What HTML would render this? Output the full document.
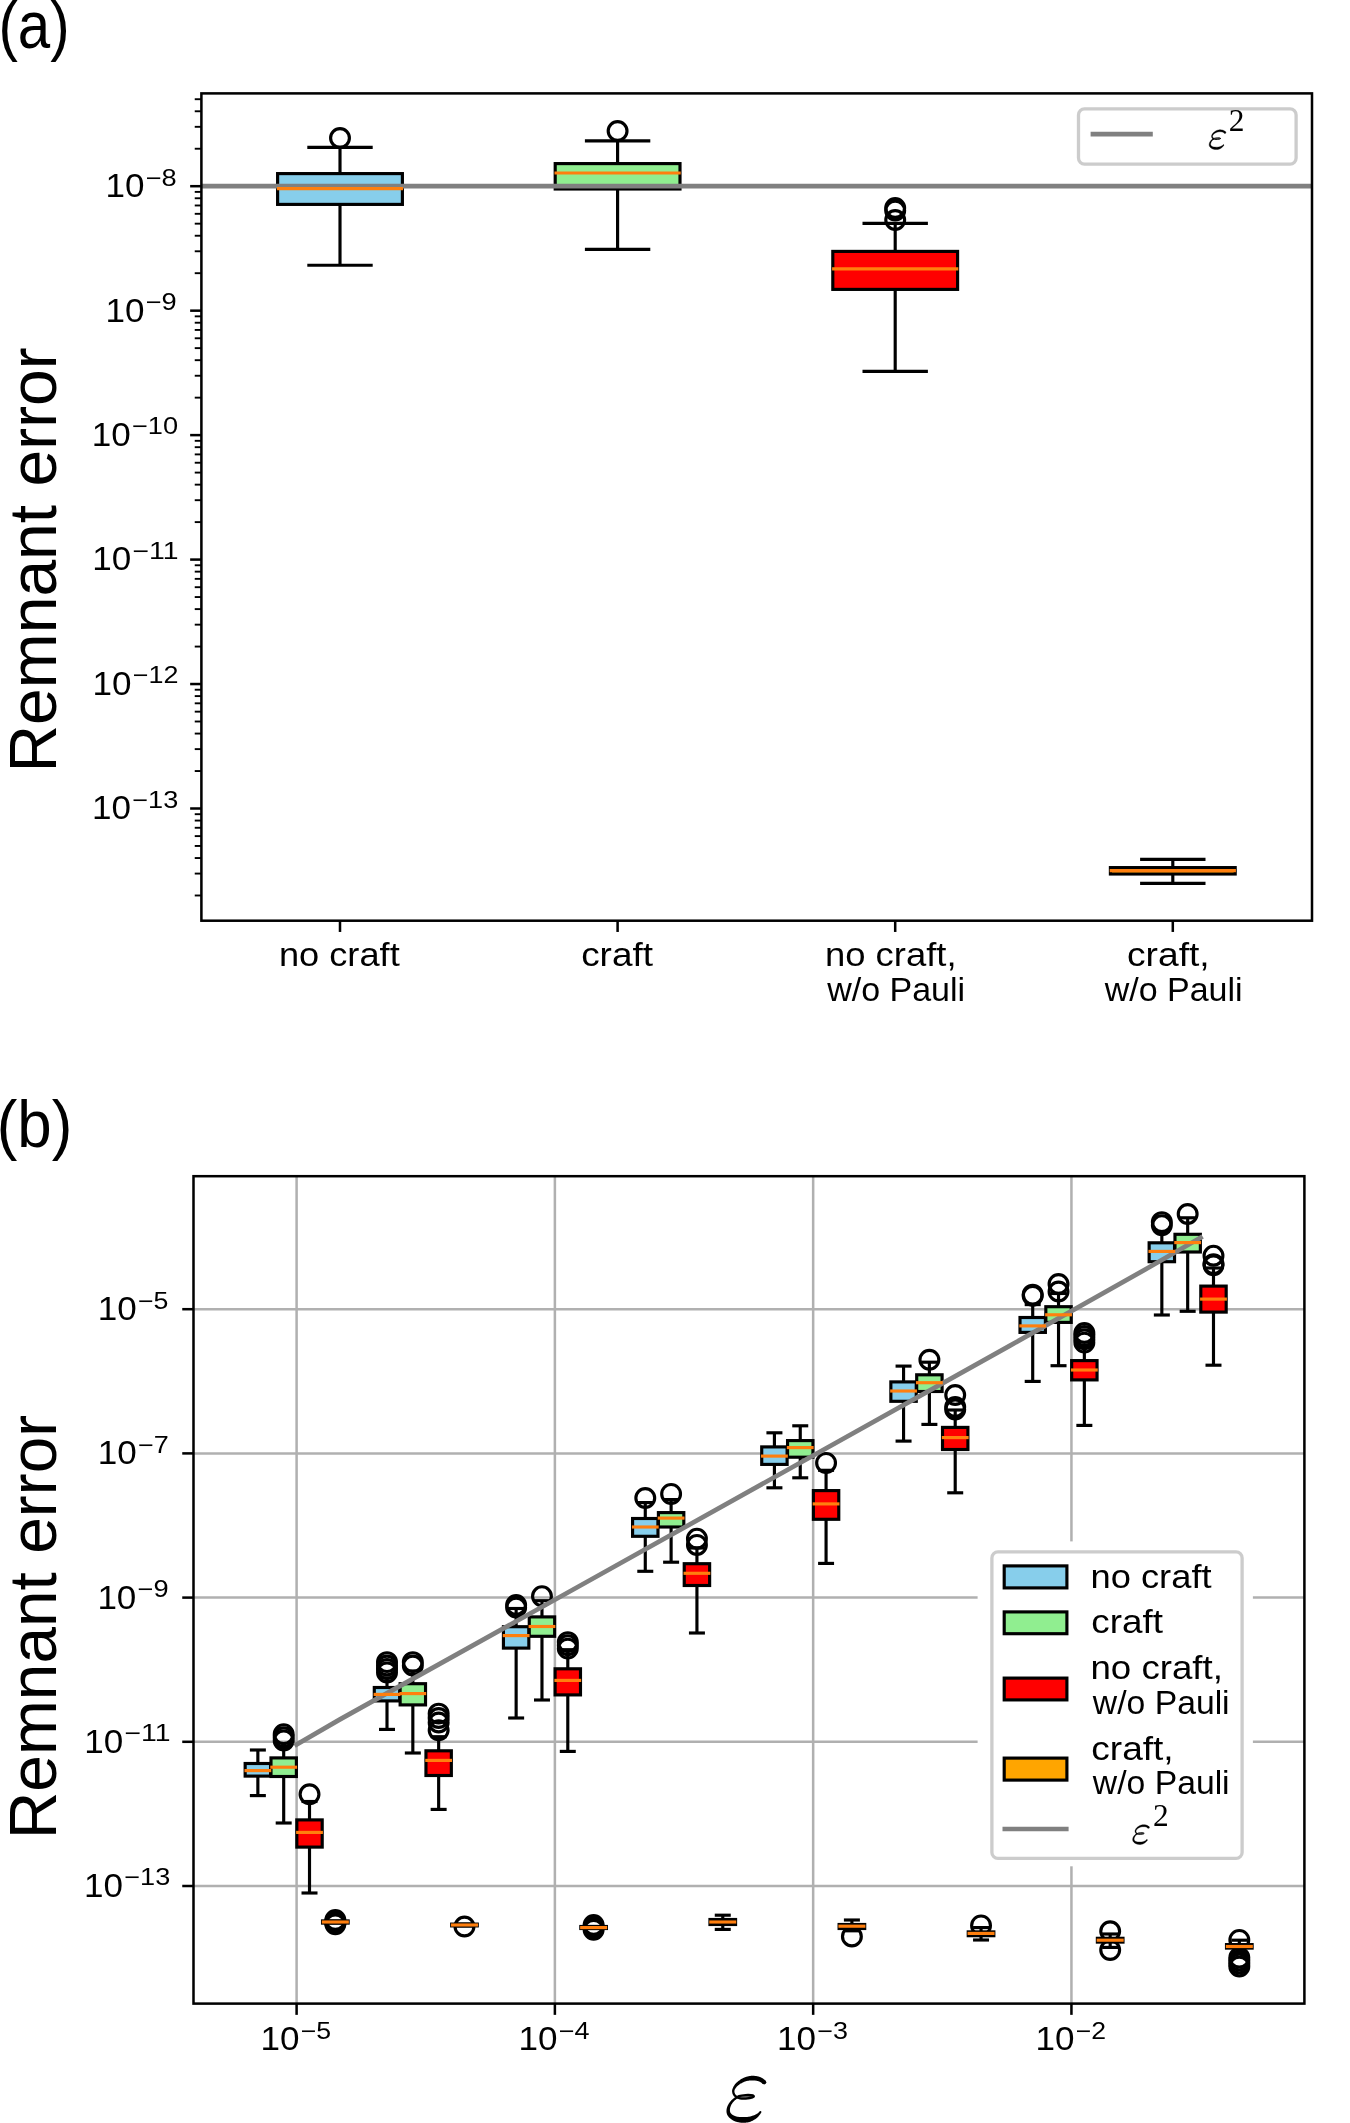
<!DOCTYPE html>
<html><head><meta charset="utf-8"><title>Remnant error box plots</title>
<style>
html,body{margin:0;padding:0;background:#fff;}
body{width:1350px;height:2123px;overflow:hidden;}
svg{display:block;will-change:transform;}
text{font-family:"Liberation Sans",sans-serif;fill:#000;}
text.m{font-family:"Liberation Serif",serif;}
</style></head><body>
<svg width="1350" height="2123" viewBox="0 0 1350 2123">
<rect x="0" y="0" width="1350" height="2123" fill="#ffffff"/>
<defs><g id="eps" fill="#000"><path d="M38.48 4.63 L38.27 4.47 L38.08 4.31 L37.89 4.14 L37.69 3.96 L37.48 3.77 L37.26 3.58 L37.03 3.37 L36.78 3.17 L36.53 2.96 L36.26 2.75 L35.97 2.54 L35.67 2.34 L35.34 2.14 L35.02 1.95 L34.70 1.78 L34.39 1.63 L34.07 1.48 L33.74 1.33 L33.42 1.20 L33.08 1.07 L32.74 0.94 L32.40 0.82 L32.05 0.71 L31.70 0.60 L31.34 0.50 L30.97 0.41 L30.60 0.32 L30.23 0.24 L29.84 0.17 L29.44 0.11 L29.04 0.05 L28.63 -0.01 L28.21 -0.05 L27.79 -0.09 L27.36 -0.13 L26.94 -0.16 L26.51 -0.18 L26.08 -0.20 L25.66 -0.21 L25.24 -0.21 L24.82 -0.21 L24.41 -0.20 L24.00 -0.16 L23.59 -0.12 L23.19 -0.07 L22.80 -0.01 L22.41 0.06 L22.02 0.13 L21.64 0.21 L21.27 0.29 L20.90 0.38 L20.54 0.47 L20.18 0.57 L19.83 0.67 L19.49 0.77 L19.16 0.87 L18.84 0.97 L18.53 1.07 L18.22 1.18 L17.92 1.28 L17.61 1.39 L17.31 1.51 L17.00 1.64 L16.69 1.77 L16.37 1.92 L16.05 2.08 L15.72 2.25 L15.38 2.43 L15.04 2.63 L14.68 2.84 L14.32 3.07 L13.94 3.32 L13.54 3.58 L13.13 3.86 L12.70 4.16 L12.26 4.46 L11.82 4.78 L11.38 5.10 L10.95 5.43 L10.52 5.78 L10.10 6.13 L9.70 6.48 L9.32 6.85 L8.96 7.22 L8.62 7.59 L8.30 7.97 L7.99 8.36 L7.69 8.76 L7.41 9.16 L7.15 9.57 L6.90 9.97 L6.66 10.37 L6.44 10.77 L6.24 11.16 L6.05 11.54 L5.88 11.92 L5.73 12.28 L5.60 12.63 L5.46 12.97 L5.35 13.31 L5.25 13.64 L5.18 13.97 L5.13 14.29 L5.09 14.60 L5.08 14.91 L5.07 15.21 L5.08 15.49 L5.11 15.77 L5.14 16.04 L5.18 16.31 L5.22 16.56 L5.27 16.82 L5.33 17.10 L5.41 17.39 L5.50 17.67 L5.60 17.95 L5.71 18.22 L5.83 18.49 L5.96 18.75 L6.10 19.00 L6.24 19.25 L6.39 19.48 L6.54 19.71 L6.70 19.93 L6.86 20.14 L7.03 20.35 L7.22 20.56 L7.43 20.76 L7.64 20.94 L7.85 21.10 L8.06 21.24 L8.27 21.37 L8.47 21.49 L8.67 21.60 L8.86 21.70 L9.04 21.80 L9.21 21.89 L9.37 21.98 L9.52 22.07 L9.68 22.17 L10.92 20.23 L10.73 20.11 L10.53 19.99 L10.33 19.88 L10.13 19.77 L9.95 19.67 L9.78 19.58 L9.61 19.49 L9.46 19.40 L9.32 19.31 L9.19 19.22 L9.07 19.13 L8.96 19.04 L8.87 18.95 L8.77 18.85 L8.66 18.72 L8.55 18.57 L8.43 18.40 L8.32 18.24 L8.21 18.06 L8.10 17.88 L8.00 17.69 L7.91 17.50 L7.82 17.31 L7.74 17.12 L7.67 16.93 L7.62 16.75 L7.57 16.56 L7.53 16.38 L7.50 16.18 L7.47 15.97 L7.44 15.77 L7.43 15.58 L7.42 15.39 L7.42 15.20 L7.42 15.02 L7.44 14.83 L7.47 14.64 L7.50 14.45 L7.56 14.25 L7.62 14.04 L7.70 13.81 L7.80 13.57 L7.94 13.31 L8.10 13.03 L8.28 12.74 L8.48 12.43 L8.68 12.11 L8.91 11.79 L9.14 11.47 L9.39 11.14 L9.65 10.82 L9.91 10.51 L10.19 10.21 L10.47 9.92 L10.75 9.64 L11.04 9.38 L11.35 9.14 L11.68 8.89 L12.05 8.63 L12.43 8.38 L12.84 8.12 L13.25 7.87 L13.68 7.62 L14.11 7.38 L14.53 7.15 L14.96 6.93 L15.37 6.72 L15.78 6.52 L16.16 6.33 L16.52 6.16 L16.84 6.01 L17.13 5.87 L17.41 5.75 L17.67 5.64 L17.92 5.55 L18.16 5.46 L18.40 5.39 L18.64 5.32 L18.88 5.25 L19.12 5.19 L19.38 5.12 L19.65 5.06 L19.94 5.00 L20.24 4.93 L20.55 4.86 L20.86 4.80 L21.16 4.74 L21.47 4.68 L21.78 4.63 L22.09 4.58 L22.41 4.54 L22.72 4.50 L23.03 4.47 L23.35 4.44 L23.66 4.42 L23.97 4.41 L24.28 4.40 L24.59 4.40 L24.91 4.39 L25.24 4.39 L25.59 4.39 L25.94 4.40 L26.29 4.41 L26.65 4.43 L27.01 4.46 L27.37 4.49 L27.72 4.52 L28.07 4.56 L28.42 4.61 L28.75 4.65 L29.07 4.71 L29.37 4.76 L29.67 4.81 L29.96 4.87 L30.24 4.93 L30.52 4.99 L30.79 5.06 L31.06 5.13 L31.32 5.21 L31.57 5.29 L31.82 5.37 L32.07 5.46 L32.30 5.55 L32.54 5.65 L32.77 5.75 L32.98 5.85 L33.17 5.95 L33.35 6.04 L33.53 6.15 L33.72 6.27 L33.91 6.41 L34.10 6.55 L34.30 6.70 L34.51 6.86 L34.72 7.03 L34.94 7.21 L35.18 7.40 L35.42 7.59 L35.67 7.78 L35.92 7.97Z"/><circle cx="37.20" cy="6.30" r="2.10"/><circle cx="10.30" cy="21.20" r="1.15"/><path d="M9.31 20.38 L9.03 20.59 L8.76 20.78 L8.48 20.97 L8.20 21.17 L7.91 21.36 L7.62 21.56 L7.32 21.77 L7.02 21.98 L6.73 22.20 L6.43 22.43 L6.13 22.66 L5.83 22.92 L5.54 23.18 L5.25 23.45 L4.97 23.72 L4.69 24.00 L4.41 24.28 L4.14 24.58 L3.86 24.88 L3.59 25.19 L3.33 25.50 L3.07 25.82 L2.81 26.14 L2.57 26.47 L2.33 26.81 L2.10 27.15 L1.88 27.49 L1.67 27.83 L1.47 28.18 L1.28 28.52 L1.09 28.88 L0.91 29.24 L0.74 29.60 L0.58 29.97 L0.43 30.34 L0.28 30.71 L0.15 31.09 L0.03 31.47 L-0.08 31.85 L-0.18 32.23 L-0.27 32.62 L-0.34 33.00 L-0.40 33.37 L-0.44 33.74 L-0.48 34.12 L-0.51 34.50 L-0.52 34.88 L-0.52 35.27 L-0.51 35.65 L-0.48 36.04 L-0.44 36.44 L-0.38 36.83 L-0.30 37.22 L-0.19 37.62 L-0.07 38.01 L0.07 38.40 L0.24 38.78 L0.43 39.15 L0.63 39.51 L0.85 39.86 L1.08 40.20 L1.33 40.52 L1.59 40.84 L1.85 41.15 L2.13 41.44 L2.42 41.73 L2.71 42.01 L3.01 42.28 L3.32 42.54 L3.63 42.80 L3.95 43.05 L4.29 43.30 L4.64 43.55 L5.00 43.79 L5.36 44.01 L5.74 44.24 L6.12 44.45 L6.52 44.66 L6.92 44.85 L7.33 45.04 L7.74 45.22 L8.16 45.39 L8.59 45.56 L9.02 45.71 L9.48 45.85 L9.94 45.97 L10.40 46.09 L10.87 46.19 L11.34 46.29 L11.81 46.37 L12.29 46.45 L12.76 46.52 L13.23 46.58 L13.70 46.63 L14.16 46.68 L14.62 46.73 L15.08 46.76 L15.53 46.80 L15.97 46.79 L16.42 46.79 L16.88 46.77 L17.34 46.76 L17.80 46.73 L18.27 46.70 L18.74 46.66 L19.21 46.62 L19.69 46.57 L20.16 46.50 L20.64 46.43 L21.11 46.35 L21.59 46.25 L22.06 46.14 L22.53 45.99 L22.99 45.83 L23.44 45.66 L23.89 45.47 L24.32 45.28 L24.75 45.09 L25.17 44.88 L25.58 44.68 L25.98 44.46 L26.38 44.25 L26.76 44.03 L27.13 43.82 L27.49 43.60 L27.84 43.38 L28.18 43.15 L28.53 42.91 L28.86 42.66 L29.19 42.41 L29.50 42.16 L29.81 41.91 L30.11 41.65 L30.39 41.40 L30.67 41.14 L30.94 40.88 L31.19 40.63 L31.44 40.38 L31.67 40.12 L31.90 39.87 L32.14 39.62 L32.36 39.36 L32.57 39.11 L32.75 38.86 L32.93 38.61 L33.09 38.37 L33.24 38.14 L33.38 37.90 L33.52 37.68 L33.65 37.45 L33.78 37.23 L33.91 37.02 L34.04 36.81 L34.18 36.59 L32.82 35.41 L32.61 35.59 L32.41 35.78 L32.21 35.97 L32.02 36.15 L31.83 36.33 L31.64 36.51 L31.46 36.68 L31.28 36.84 L31.09 37.00 L30.91 37.15 L30.72 37.30 L30.52 37.45 L30.32 37.59 L30.10 37.73 L29.85 37.87 L29.58 38.02 L29.31 38.17 L29.03 38.31 L28.75 38.46 L28.45 38.60 L28.16 38.75 L27.85 38.89 L27.55 39.02 L27.24 39.15 L26.92 39.28 L26.61 39.40 L26.29 39.51 L25.96 39.62 L25.63 39.74 L25.28 39.86 L24.92 39.97 L24.56 40.09 L24.19 40.20 L23.82 40.30 L23.45 40.40 L23.08 40.50 L22.71 40.58 L22.35 40.66 L21.99 40.72 L21.63 40.78 L21.28 40.83 L20.94 40.86 L20.60 40.91 L20.26 40.96 L19.90 40.99 L19.54 41.02 L19.17 41.05 L18.80 41.06 L18.42 41.07 L18.04 41.08 L17.65 41.08 L17.26 41.07 L16.87 41.06 L16.47 41.04 L16.07 41.02 L15.67 41.00 L15.27 41.01 L14.87 41.02 L14.47 41.02 L14.07 41.02 L13.67 41.01 L13.27 41.00 L12.88 40.98 L12.49 40.96 L12.11 40.93 L11.74 40.89 L11.38 40.85 L11.03 40.80 L10.70 40.75 L10.38 40.69 L10.05 40.63 L9.72 40.55 L9.40 40.48 L9.07 40.39 L8.75 40.29 L8.44 40.19 L8.13 40.09 L7.82 39.97 L7.52 39.86 L7.24 39.73 L6.95 39.61 L6.68 39.48 L6.42 39.34 L6.17 39.20 L5.92 39.05 L5.68 38.89 L5.44 38.73 L5.21 38.56 L4.99 38.39 L4.78 38.21 L4.58 38.04 L4.39 37.86 L4.21 37.68 L4.05 37.50 L3.89 37.32 L3.76 37.15 L3.63 36.97 L3.53 36.80 L3.43 36.63 L3.34 36.44 L3.26 36.23 L3.19 36.02 L3.13 35.79 L3.07 35.56 L3.02 35.31 L2.98 35.05 L2.96 34.79 L2.94 34.52 L2.92 34.24 L2.92 33.96 L2.93 33.68 L2.94 33.40 L2.96 33.13 L2.99 32.85 L3.03 32.56 L3.09 32.26 L3.15 31.96 L3.23 31.65 L3.31 31.34 L3.40 31.02 L3.51 30.71 L3.62 30.39 L3.74 30.08 L3.86 29.77 L3.99 29.47 L4.13 29.17 L4.28 28.87 L4.44 28.58 L4.61 28.28 L4.79 27.98 L4.98 27.68 L5.18 27.39 L5.39 27.09 L5.60 26.79 L5.82 26.50 L6.04 26.22 L6.27 25.94 L6.50 25.67 L6.72 25.40 L6.95 25.15 L7.18 24.92 L7.41 24.70 L7.65 24.49 L7.90 24.28 L8.16 24.08 L8.42 23.88 L8.69 23.68 L8.97 23.48 L9.25 23.28 L9.53 23.08 L9.82 22.87 L10.11 22.66 L10.41 22.44 L10.69 22.22Z"/><circle cx="10.00" cy="21.30" r="1.15"/><circle cx="33.50" cy="36.00" r="0.90"/><ellipse cx="18.7" cy="20.8" rx="8.2" ry="1.75" fill="#777" stroke="#000" stroke-width="2.3" transform="rotate(-3 18.7 20.8)"/></g></defs>
<g id="panelA">
<line x1="194.74" y1="895.49" x2="201.40" y2="895.49" stroke="#000" stroke-width="1.9" stroke-linecap="butt"/>
<line x1="194.74" y1="873.58" x2="201.40" y2="873.58" stroke="#000" stroke-width="1.9" stroke-linecap="butt"/>
<line x1="194.74" y1="858.03" x2="201.40" y2="858.03" stroke="#000" stroke-width="1.9" stroke-linecap="butt"/>
<line x1="194.74" y1="845.97" x2="201.40" y2="845.97" stroke="#000" stroke-width="1.9" stroke-linecap="butt"/>
<line x1="194.74" y1="836.11" x2="201.40" y2="836.11" stroke="#000" stroke-width="1.9" stroke-linecap="butt"/>
<line x1="194.74" y1="827.78" x2="201.40" y2="827.78" stroke="#000" stroke-width="1.9" stroke-linecap="butt"/>
<line x1="194.74" y1="820.56" x2="201.40" y2="820.56" stroke="#000" stroke-width="1.9" stroke-linecap="butt"/>
<line x1="194.74" y1="814.19" x2="201.40" y2="814.19" stroke="#000" stroke-width="1.9" stroke-linecap="butt"/>
<line x1="194.74" y1="771.03" x2="201.40" y2="771.03" stroke="#000" stroke-width="1.9" stroke-linecap="butt"/>
<line x1="194.74" y1="749.12" x2="201.40" y2="749.12" stroke="#000" stroke-width="1.9" stroke-linecap="butt"/>
<line x1="194.74" y1="733.57" x2="201.40" y2="733.57" stroke="#000" stroke-width="1.9" stroke-linecap="butt"/>
<line x1="194.74" y1="721.51" x2="201.40" y2="721.51" stroke="#000" stroke-width="1.9" stroke-linecap="butt"/>
<line x1="194.74" y1="711.65" x2="201.40" y2="711.65" stroke="#000" stroke-width="1.9" stroke-linecap="butt"/>
<line x1="194.74" y1="703.32" x2="201.40" y2="703.32" stroke="#000" stroke-width="1.9" stroke-linecap="butt"/>
<line x1="194.74" y1="696.10" x2="201.40" y2="696.10" stroke="#000" stroke-width="1.9" stroke-linecap="butt"/>
<line x1="194.74" y1="689.73" x2="201.40" y2="689.73" stroke="#000" stroke-width="1.9" stroke-linecap="butt"/>
<line x1="194.74" y1="646.57" x2="201.40" y2="646.57" stroke="#000" stroke-width="1.9" stroke-linecap="butt"/>
<line x1="194.74" y1="624.66" x2="201.40" y2="624.66" stroke="#000" stroke-width="1.9" stroke-linecap="butt"/>
<line x1="194.74" y1="609.11" x2="201.40" y2="609.11" stroke="#000" stroke-width="1.9" stroke-linecap="butt"/>
<line x1="194.74" y1="597.05" x2="201.40" y2="597.05" stroke="#000" stroke-width="1.9" stroke-linecap="butt"/>
<line x1="194.74" y1="587.19" x2="201.40" y2="587.19" stroke="#000" stroke-width="1.9" stroke-linecap="butt"/>
<line x1="194.74" y1="578.86" x2="201.40" y2="578.86" stroke="#000" stroke-width="1.9" stroke-linecap="butt"/>
<line x1="194.74" y1="571.64" x2="201.40" y2="571.64" stroke="#000" stroke-width="1.9" stroke-linecap="butt"/>
<line x1="194.74" y1="565.27" x2="201.40" y2="565.27" stroke="#000" stroke-width="1.9" stroke-linecap="butt"/>
<line x1="194.74" y1="522.11" x2="201.40" y2="522.11" stroke="#000" stroke-width="1.9" stroke-linecap="butt"/>
<line x1="194.74" y1="500.20" x2="201.40" y2="500.20" stroke="#000" stroke-width="1.9" stroke-linecap="butt"/>
<line x1="194.74" y1="484.65" x2="201.40" y2="484.65" stroke="#000" stroke-width="1.9" stroke-linecap="butt"/>
<line x1="194.74" y1="472.59" x2="201.40" y2="472.59" stroke="#000" stroke-width="1.9" stroke-linecap="butt"/>
<line x1="194.74" y1="462.73" x2="201.40" y2="462.73" stroke="#000" stroke-width="1.9" stroke-linecap="butt"/>
<line x1="194.74" y1="454.40" x2="201.40" y2="454.40" stroke="#000" stroke-width="1.9" stroke-linecap="butt"/>
<line x1="194.74" y1="447.18" x2="201.40" y2="447.18" stroke="#000" stroke-width="1.9" stroke-linecap="butt"/>
<line x1="194.74" y1="440.81" x2="201.40" y2="440.81" stroke="#000" stroke-width="1.9" stroke-linecap="butt"/>
<line x1="194.74" y1="397.65" x2="201.40" y2="397.65" stroke="#000" stroke-width="1.9" stroke-linecap="butt"/>
<line x1="194.74" y1="375.74" x2="201.40" y2="375.74" stroke="#000" stroke-width="1.9" stroke-linecap="butt"/>
<line x1="194.74" y1="360.19" x2="201.40" y2="360.19" stroke="#000" stroke-width="1.9" stroke-linecap="butt"/>
<line x1="194.74" y1="348.13" x2="201.40" y2="348.13" stroke="#000" stroke-width="1.9" stroke-linecap="butt"/>
<line x1="194.74" y1="338.27" x2="201.40" y2="338.27" stroke="#000" stroke-width="1.9" stroke-linecap="butt"/>
<line x1="194.74" y1="329.94" x2="201.40" y2="329.94" stroke="#000" stroke-width="1.9" stroke-linecap="butt"/>
<line x1="194.74" y1="322.72" x2="201.40" y2="322.72" stroke="#000" stroke-width="1.9" stroke-linecap="butt"/>
<line x1="194.74" y1="316.35" x2="201.40" y2="316.35" stroke="#000" stroke-width="1.9" stroke-linecap="butt"/>
<line x1="194.74" y1="273.19" x2="201.40" y2="273.19" stroke="#000" stroke-width="1.9" stroke-linecap="butt"/>
<line x1="194.74" y1="251.28" x2="201.40" y2="251.28" stroke="#000" stroke-width="1.9" stroke-linecap="butt"/>
<line x1="194.74" y1="235.73" x2="201.40" y2="235.73" stroke="#000" stroke-width="1.9" stroke-linecap="butt"/>
<line x1="194.74" y1="223.67" x2="201.40" y2="223.67" stroke="#000" stroke-width="1.9" stroke-linecap="butt"/>
<line x1="194.74" y1="213.81" x2="201.40" y2="213.81" stroke="#000" stroke-width="1.9" stroke-linecap="butt"/>
<line x1="194.74" y1="205.48" x2="201.40" y2="205.48" stroke="#000" stroke-width="1.9" stroke-linecap="butt"/>
<line x1="194.74" y1="198.26" x2="201.40" y2="198.26" stroke="#000" stroke-width="1.9" stroke-linecap="butt"/>
<line x1="194.74" y1="191.89" x2="201.40" y2="191.89" stroke="#000" stroke-width="1.9" stroke-linecap="butt"/>
<line x1="194.74" y1="148.73" x2="201.40" y2="148.73" stroke="#000" stroke-width="1.9" stroke-linecap="butt"/>
<line x1="194.74" y1="126.82" x2="201.40" y2="126.82" stroke="#000" stroke-width="1.9" stroke-linecap="butt"/>
<line x1="194.74" y1="111.27" x2="201.40" y2="111.27" stroke="#000" stroke-width="1.9" stroke-linecap="butt"/>
<line x1="194.74" y1="99.21" x2="201.40" y2="99.21" stroke="#000" stroke-width="1.9" stroke-linecap="butt"/>
<line x1="190.14" y1="808.50" x2="201.40" y2="808.50" stroke="#000" stroke-width="2.52" stroke-linecap="butt"/>
<line x1="190.14" y1="684.04" x2="201.40" y2="684.04" stroke="#000" stroke-width="2.52" stroke-linecap="butt"/>
<line x1="190.14" y1="559.58" x2="201.40" y2="559.58" stroke="#000" stroke-width="2.52" stroke-linecap="butt"/>
<line x1="190.14" y1="435.12" x2="201.40" y2="435.12" stroke="#000" stroke-width="2.52" stroke-linecap="butt"/>
<line x1="190.14" y1="310.66" x2="201.40" y2="310.66" stroke="#000" stroke-width="2.52" stroke-linecap="butt"/>
<line x1="190.14" y1="186.20" x2="201.40" y2="186.20" stroke="#000" stroke-width="2.52" stroke-linecap="butt"/>
<line x1="340.00" y1="920.70" x2="340.00" y2="931.96" stroke="#000" stroke-width="2.52" stroke-linecap="butt"/>
<line x1="617.60" y1="920.70" x2="617.60" y2="931.96" stroke="#000" stroke-width="2.52" stroke-linecap="butt"/>
<line x1="895.20" y1="920.70" x2="895.20" y2="931.96" stroke="#000" stroke-width="2.52" stroke-linecap="butt"/>
<line x1="1172.80" y1="920.70" x2="1172.80" y2="931.96" stroke="#000" stroke-width="2.52" stroke-linecap="butt"/>
<line x1="340.00" y1="173.60" x2="340.00" y2="147.40" stroke="#000" stroke-width="3.15" stroke-linecap="butt"/>
<line x1="340.00" y1="204.40" x2="340.00" y2="265.20" stroke="#000" stroke-width="3.15" stroke-linecap="butt"/>
<line x1="307.30" y1="147.40" x2="372.70" y2="147.40" stroke="#000" stroke-width="3.15" stroke-linecap="butt"/>
<line x1="307.30" y1="265.20" x2="372.70" y2="265.20" stroke="#000" stroke-width="3.15" stroke-linecap="butt"/>
<rect x="277.60" y="173.60" width="124.80" height="30.80" fill="#87ceeb" stroke="#000" stroke-width="3.15" />
<circle cx="340.00" cy="138.00" r="9.4" fill="none" stroke="#000" stroke-width="3.15"/>
<line x1="617.60" y1="163.60" x2="617.60" y2="140.80" stroke="#000" stroke-width="3.15" stroke-linecap="butt"/>
<line x1="617.60" y1="189.00" x2="617.60" y2="249.40" stroke="#000" stroke-width="3.15" stroke-linecap="butt"/>
<line x1="584.90" y1="140.80" x2="650.30" y2="140.80" stroke="#000" stroke-width="3.15" stroke-linecap="butt"/>
<line x1="584.90" y1="249.40" x2="650.30" y2="249.40" stroke="#000" stroke-width="3.15" stroke-linecap="butt"/>
<rect x="555.20" y="163.60" width="124.80" height="25.40" fill="#90ee90" stroke="#000" stroke-width="3.15" />
<circle cx="617.60" cy="131.00" r="9.4" fill="none" stroke="#000" stroke-width="3.15"/>
<line x1="895.20" y1="251.40" x2="895.20" y2="223.40" stroke="#000" stroke-width="3.15" stroke-linecap="butt"/>
<line x1="895.20" y1="289.40" x2="895.20" y2="371.40" stroke="#000" stroke-width="3.15" stroke-linecap="butt"/>
<line x1="862.50" y1="223.40" x2="927.90" y2="223.40" stroke="#000" stroke-width="3.15" stroke-linecap="butt"/>
<line x1="862.50" y1="371.40" x2="927.90" y2="371.40" stroke="#000" stroke-width="3.15" stroke-linecap="butt"/>
<rect x="832.80" y="251.40" width="124.80" height="38.00" fill="#ff0000" stroke="#000" stroke-width="3.15" />
<circle cx="895.20" cy="208.00" r="9.4" fill="none" stroke="#000" stroke-width="3.15"/>
<circle cx="895.20" cy="210.50" r="9.4" fill="none" stroke="#000" stroke-width="3.15"/>
<circle cx="895.20" cy="220.00" r="9.4" fill="none" stroke="#000" stroke-width="3.15"/>
<line x1="1172.80" y1="867.60" x2="1172.80" y2="859.40" stroke="#000" stroke-width="3.15" stroke-linecap="butt"/>
<line x1="1172.80" y1="874.00" x2="1172.80" y2="883.40" stroke="#000" stroke-width="3.15" stroke-linecap="butt"/>
<line x1="1140.10" y1="859.40" x2="1205.50" y2="859.40" stroke="#000" stroke-width="3.15" stroke-linecap="butt"/>
<line x1="1140.10" y1="883.40" x2="1205.50" y2="883.40" stroke="#000" stroke-width="3.15" stroke-linecap="butt"/>
<rect x="1110.40" y="867.60" width="124.80" height="6.40" fill="#ffa500" stroke="#000" stroke-width="3.15" />
<line x1="201.40" y1="186.20" x2="1312.00" y2="186.20" stroke="#808080" stroke-width="4.7" stroke-linecap="butt"/>
<line x1="276.90" y1="188.60" x2="403.10" y2="188.60" stroke="#ff7f0e" stroke-width="3.15" stroke-linecap="butt"/>
<line x1="554.50" y1="173.00" x2="680.70" y2="173.00" stroke="#ff7f0e" stroke-width="3.15" stroke-linecap="butt"/>
<line x1="832.10" y1="268.80" x2="958.30" y2="268.80" stroke="#ff7f0e" stroke-width="3.15" stroke-linecap="butt"/>
<line x1="1109.70" y1="870.60" x2="1235.90" y2="870.60" stroke="#ff7f0e" stroke-width="3.15" stroke-linecap="butt"/>
<rect x="201.40" y="93.40" width="1110.60" height="827.30" fill="none" stroke="#000" stroke-width="2.52" />
<rect x="1078.5" y="108.9" width="217.6" height="55.2" rx="6" ry="6" fill="#fff" stroke="#cccccc" stroke-width="3.3"/>
<line x1="1090.60" y1="134.20" x2="1152.80" y2="134.20" stroke="#808080" stroke-width="4.7" stroke-linecap="butt"/>
<use href="#eps" stroke="#000" stroke-width="0.9" aria-label="epsilon" transform="translate(1209.40 129.90) scale(0.42)"/>
<text class="m" transform="translate(1228.8 131.0)" font-size="31.4">2</text>
<text transform="matrix(1.0478 0 0 1 105.48 197.10)" font-size="33.45" fill="#000">10</text>
<text transform="matrix(1.1692 0 0 1 145.68 185.50)" font-size="23.26" fill="#000">−8</text>
<text transform="matrix(1.0478 0 0 1 105.48 321.56)" font-size="33.45" fill="#000">10</text>
<text transform="matrix(1.1692 0 0 1 145.68 309.96)" font-size="23.26" fill="#000">−9</text>
<text transform="matrix(1.0478 0 0 1 91.78 446.02)" font-size="33.45" fill="#000">10</text>
<text transform="matrix(1.1692 0 0 1 131.98 434.42)" font-size="23.26" fill="#000">−10</text>
<text transform="matrix(1.0478 0 0 1 92.28 570.48)" font-size="33.45" fill="#000">10</text>
<text transform="matrix(1.2212 0 0 1 132.43 558.88)" font-size="23.26" fill="#000">−11</text>
<text transform="matrix(1.0478 0 0 1 92.53 694.94)" font-size="33.45" fill="#000">10</text>
<text transform="matrix(1.1569 0 0 1 132.75 683.34)" font-size="23.26" fill="#000">−12</text>
<text transform="matrix(1.0478 0 0 1 92.03 819.40)" font-size="33.45" fill="#000">10</text>
<text transform="matrix(1.1664 0 0 1 132.24 807.80)" font-size="23.26" fill="#000">−13</text>
<text transform="matrix(1.1053 0 0 1 278.89 966.20)" font-size="32.79" fill="#000">no craft</text>
<text transform="matrix(1.1268 0 0 1 581.15 966.20)" font-size="32.79" fill="#000">craft</text>
<text transform="matrix(1.1115 0 0 1 824.90 966.20)" font-size="32.79" fill="#000">no craft,</text>
<text transform="matrix(1.0373 0 0 1 827.19 1001.00)" font-size="32.79" fill="#000">w/o Pauli</text>
<text transform="matrix(1.1350 0 0 1 1126.96 966.20)" font-size="32.79" fill="#000">craft,</text>
<text transform="matrix(1.0373 0 0 1 1104.69 1001.10)" font-size="32.79" fill="#000">w/o Pauli</text>
</g>
<g id="panelB">
<line x1="296.60" y1="1176.20" x2="296.60" y2="2003.60" stroke="#b0b0b0" stroke-width="2.52" stroke-linecap="butt"/>
<line x1="554.88" y1="1176.20" x2="554.88" y2="2003.60" stroke="#b0b0b0" stroke-width="2.52" stroke-linecap="butt"/>
<line x1="813.16" y1="1176.20" x2="813.16" y2="2003.60" stroke="#b0b0b0" stroke-width="2.52" stroke-linecap="butt"/>
<line x1="1071.44" y1="1176.20" x2="1071.44" y2="2003.60" stroke="#b0b0b0" stroke-width="2.52" stroke-linecap="butt"/>
<line x1="193.50" y1="1309.20" x2="1304.40" y2="1309.20" stroke="#b0b0b0" stroke-width="2.52" stroke-linecap="butt"/>
<line x1="193.50" y1="1453.40" x2="1304.40" y2="1453.40" stroke="#b0b0b0" stroke-width="2.52" stroke-linecap="butt"/>
<line x1="193.50" y1="1597.60" x2="1304.40" y2="1597.60" stroke="#b0b0b0" stroke-width="2.52" stroke-linecap="butt"/>
<line x1="193.50" y1="1741.80" x2="1304.40" y2="1741.80" stroke="#b0b0b0" stroke-width="2.52" stroke-linecap="butt"/>
<line x1="193.50" y1="1886.00" x2="1304.40" y2="1886.00" stroke="#b0b0b0" stroke-width="2.52" stroke-linecap="butt"/>
<line x1="296.60" y1="2003.60" x2="296.60" y2="2014.86" stroke="#000" stroke-width="2.52" stroke-linecap="butt"/>
<line x1="554.88" y1="2003.60" x2="554.88" y2="2014.86" stroke="#000" stroke-width="2.52" stroke-linecap="butt"/>
<line x1="813.16" y1="2003.60" x2="813.16" y2="2014.86" stroke="#000" stroke-width="2.52" stroke-linecap="butt"/>
<line x1="1071.44" y1="2003.60" x2="1071.44" y2="2014.86" stroke="#000" stroke-width="2.52" stroke-linecap="butt"/>
<line x1="182.24" y1="1309.20" x2="193.50" y2="1309.20" stroke="#000" stroke-width="2.52" stroke-linecap="butt"/>
<line x1="182.24" y1="1453.40" x2="193.50" y2="1453.40" stroke="#000" stroke-width="2.52" stroke-linecap="butt"/>
<line x1="182.24" y1="1597.60" x2="193.50" y2="1597.60" stroke="#000" stroke-width="2.52" stroke-linecap="butt"/>
<line x1="182.24" y1="1741.80" x2="193.50" y2="1741.80" stroke="#000" stroke-width="2.52" stroke-linecap="butt"/>
<line x1="182.24" y1="1886.00" x2="193.50" y2="1886.00" stroke="#000" stroke-width="2.52" stroke-linecap="butt"/>
<line x1="257.86" y1="1763.50" x2="257.86" y2="1750.00" stroke="#000" stroke-width="3.15" stroke-linecap="butt"/>
<line x1="257.86" y1="1776.10" x2="257.86" y2="1795.60" stroke="#000" stroke-width="3.15" stroke-linecap="butt"/>
<line x1="249.86" y1="1750.00" x2="265.86" y2="1750.00" stroke="#000" stroke-width="3.15" stroke-linecap="butt"/>
<line x1="249.86" y1="1795.60" x2="265.86" y2="1795.60" stroke="#000" stroke-width="3.15" stroke-linecap="butt"/>
<rect x="245.16" y="1763.50" width="25.40" height="12.60" fill="#87ceeb" stroke="#000" stroke-width="3.15" />
<line x1="283.69" y1="1757.90" x2="283.69" y2="1746.50" stroke="#000" stroke-width="3.15" stroke-linecap="butt"/>
<line x1="283.69" y1="1776.50" x2="283.69" y2="1823.00" stroke="#000" stroke-width="3.15" stroke-linecap="butt"/>
<line x1="275.69" y1="1746.50" x2="291.69" y2="1746.50" stroke="#000" stroke-width="3.15" stroke-linecap="butt"/>
<line x1="275.69" y1="1823.00" x2="291.69" y2="1823.00" stroke="#000" stroke-width="3.15" stroke-linecap="butt"/>
<rect x="270.99" y="1757.90" width="25.40" height="18.60" fill="#90ee90" stroke="#000" stroke-width="3.15" />
<circle cx="283.69" cy="1734.20" r="9.4" fill="none" stroke="#000" stroke-width="3.15"/>
<circle cx="283.69" cy="1737.30" r="9.4" fill="none" stroke="#000" stroke-width="3.15"/>
<circle cx="283.69" cy="1740.40" r="9.4" fill="none" stroke="#000" stroke-width="3.15"/>
<line x1="309.51" y1="1819.90" x2="309.51" y2="1801.50" stroke="#000" stroke-width="3.15" stroke-linecap="butt"/>
<line x1="309.51" y1="1847.10" x2="309.51" y2="1893.00" stroke="#000" stroke-width="3.15" stroke-linecap="butt"/>
<line x1="301.51" y1="1801.50" x2="317.51" y2="1801.50" stroke="#000" stroke-width="3.15" stroke-linecap="butt"/>
<line x1="301.51" y1="1893.00" x2="317.51" y2="1893.00" stroke="#000" stroke-width="3.15" stroke-linecap="butt"/>
<rect x="296.81" y="1819.90" width="25.40" height="27.20" fill="#ff0000" stroke="#000" stroke-width="3.15" />
<circle cx="309.51" cy="1794.30" r="9.4" fill="none" stroke="#000" stroke-width="3.15"/>
<line x1="335.34" y1="1920.90" x2="335.34" y2="1921.00" stroke="#000" stroke-width="3.15" stroke-linecap="butt"/>
<line x1="335.34" y1="1923.10" x2="335.34" y2="1923.00" stroke="#000" stroke-width="3.15" stroke-linecap="butt"/>
<line x1="327.34" y1="1921.00" x2="343.34" y2="1921.00" stroke="#000" stroke-width="3.15" stroke-linecap="butt"/>
<line x1="327.34" y1="1923.00" x2="343.34" y2="1923.00" stroke="#000" stroke-width="3.15" stroke-linecap="butt"/>
<rect x="322.54" y="1920.90" width="25.60" height="2.20" fill="#ffa500" stroke="#000" stroke-width="3.15" />
<circle cx="335.34" cy="1919.90" r="9.4" fill="none" stroke="#000" stroke-width="3.15"/>
<circle cx="335.34" cy="1921.40" r="9.4" fill="none" stroke="#000" stroke-width="3.15"/>
<circle cx="335.34" cy="1922.90" r="9.4" fill="none" stroke="#000" stroke-width="3.15"/>
<circle cx="335.34" cy="1924.30" r="9.4" fill="none" stroke="#000" stroke-width="3.15"/>
<line x1="387.00" y1="1687.50" x2="387.00" y2="1678.00" stroke="#000" stroke-width="3.15" stroke-linecap="butt"/>
<line x1="387.00" y1="1700.90" x2="387.00" y2="1729.40" stroke="#000" stroke-width="3.15" stroke-linecap="butt"/>
<line x1="379.00" y1="1678.00" x2="395.00" y2="1678.00" stroke="#000" stroke-width="3.15" stroke-linecap="butt"/>
<line x1="379.00" y1="1729.40" x2="395.00" y2="1729.40" stroke="#000" stroke-width="3.15" stroke-linecap="butt"/>
<rect x="374.30" y="1687.50" width="25.40" height="13.40" fill="#87ceeb" stroke="#000" stroke-width="3.15" />
<circle cx="387.00" cy="1662.10" r="9.4" fill="none" stroke="#000" stroke-width="3.15"/>
<circle cx="387.00" cy="1665.50" r="9.4" fill="none" stroke="#000" stroke-width="3.15"/>
<circle cx="387.00" cy="1669.00" r="9.4" fill="none" stroke="#000" stroke-width="3.15"/>
<circle cx="387.00" cy="1672.40" r="9.4" fill="none" stroke="#000" stroke-width="3.15"/>
<line x1="412.83" y1="1683.70" x2="412.83" y2="1671.00" stroke="#000" stroke-width="3.15" stroke-linecap="butt"/>
<line x1="412.83" y1="1704.90" x2="412.83" y2="1753.00" stroke="#000" stroke-width="3.15" stroke-linecap="butt"/>
<line x1="404.83" y1="1671.00" x2="420.83" y2="1671.00" stroke="#000" stroke-width="3.15" stroke-linecap="butt"/>
<line x1="404.83" y1="1753.00" x2="420.83" y2="1753.00" stroke="#000" stroke-width="3.15" stroke-linecap="butt"/>
<rect x="400.13" y="1683.70" width="25.40" height="21.20" fill="#90ee90" stroke="#000" stroke-width="3.15" />
<circle cx="412.83" cy="1662.10" r="9.4" fill="none" stroke="#000" stroke-width="3.15"/>
<circle cx="412.83" cy="1665.50" r="9.4" fill="none" stroke="#000" stroke-width="3.15"/>
<line x1="438.65" y1="1750.80" x2="438.65" y2="1736.70" stroke="#000" stroke-width="3.15" stroke-linecap="butt"/>
<line x1="438.65" y1="1775.50" x2="438.65" y2="1809.40" stroke="#000" stroke-width="3.15" stroke-linecap="butt"/>
<line x1="430.65" y1="1736.70" x2="446.65" y2="1736.70" stroke="#000" stroke-width="3.15" stroke-linecap="butt"/>
<line x1="430.65" y1="1809.40" x2="446.65" y2="1809.40" stroke="#000" stroke-width="3.15" stroke-linecap="butt"/>
<rect x="425.95" y="1750.80" width="25.40" height="24.70" fill="#ff0000" stroke="#000" stroke-width="3.15" />
<circle cx="438.65" cy="1713.60" r="9.4" fill="none" stroke="#000" stroke-width="3.15"/>
<circle cx="438.65" cy="1718.00" r="9.4" fill="none" stroke="#000" stroke-width="3.15"/>
<circle cx="438.65" cy="1722.50" r="9.4" fill="none" stroke="#000" stroke-width="3.15"/>
<circle cx="438.65" cy="1730.20" r="9.4" fill="none" stroke="#000" stroke-width="3.15"/>
<line x1="464.48" y1="1924.10" x2="464.48" y2="1924.00" stroke="#000" stroke-width="3.15" stroke-linecap="butt"/>
<line x1="464.48" y1="1925.90" x2="464.48" y2="1926.00" stroke="#000" stroke-width="3.15" stroke-linecap="butt"/>
<line x1="456.48" y1="1924.00" x2="472.48" y2="1924.00" stroke="#000" stroke-width="3.15" stroke-linecap="butt"/>
<line x1="456.48" y1="1926.00" x2="472.48" y2="1926.00" stroke="#000" stroke-width="3.15" stroke-linecap="butt"/>
<rect x="451.68" y="1924.10" width="25.60" height="1.80" fill="#ffa500" stroke="#000" stroke-width="3.15" />
<circle cx="464.48" cy="1926.50" r="9.4" fill="none" stroke="#000" stroke-width="3.15"/>
<line x1="516.14" y1="1626.70" x2="516.14" y2="1608.50" stroke="#000" stroke-width="3.15" stroke-linecap="butt"/>
<line x1="516.14" y1="1648.10" x2="516.14" y2="1718.00" stroke="#000" stroke-width="3.15" stroke-linecap="butt"/>
<line x1="508.14" y1="1608.50" x2="524.14" y2="1608.50" stroke="#000" stroke-width="3.15" stroke-linecap="butt"/>
<line x1="508.14" y1="1718.00" x2="524.14" y2="1718.00" stroke="#000" stroke-width="3.15" stroke-linecap="butt"/>
<rect x="503.44" y="1626.70" width="25.40" height="21.40" fill="#87ceeb" stroke="#000" stroke-width="3.15" />
<circle cx="516.14" cy="1605.00" r="9.4" fill="none" stroke="#000" stroke-width="3.15"/>
<circle cx="516.14" cy="1607.50" r="9.4" fill="none" stroke="#000" stroke-width="3.15"/>
<line x1="541.97" y1="1616.90" x2="541.97" y2="1600.70" stroke="#000" stroke-width="3.15" stroke-linecap="butt"/>
<line x1="541.97" y1="1636.30" x2="541.97" y2="1700.00" stroke="#000" stroke-width="3.15" stroke-linecap="butt"/>
<line x1="533.97" y1="1600.70" x2="549.97" y2="1600.70" stroke="#000" stroke-width="3.15" stroke-linecap="butt"/>
<line x1="533.97" y1="1700.00" x2="549.97" y2="1700.00" stroke="#000" stroke-width="3.15" stroke-linecap="butt"/>
<rect x="529.27" y="1616.90" width="25.40" height="19.40" fill="#90ee90" stroke="#000" stroke-width="3.15" />
<circle cx="541.97" cy="1596.20" r="9.4" fill="none" stroke="#000" stroke-width="3.15"/>
<line x1="567.79" y1="1668.80" x2="567.79" y2="1649.70" stroke="#000" stroke-width="3.15" stroke-linecap="butt"/>
<line x1="567.79" y1="1694.90" x2="567.79" y2="1751.40" stroke="#000" stroke-width="3.15" stroke-linecap="butt"/>
<line x1="559.79" y1="1649.70" x2="575.79" y2="1649.70" stroke="#000" stroke-width="3.15" stroke-linecap="butt"/>
<line x1="559.79" y1="1751.40" x2="575.79" y2="1751.40" stroke="#000" stroke-width="3.15" stroke-linecap="butt"/>
<rect x="555.09" y="1668.80" width="25.40" height="26.10" fill="#ff0000" stroke="#000" stroke-width="3.15" />
<circle cx="567.79" cy="1642.10" r="9.4" fill="none" stroke="#000" stroke-width="3.15"/>
<circle cx="567.79" cy="1645.20" r="9.4" fill="none" stroke="#000" stroke-width="3.15"/>
<circle cx="567.79" cy="1648.60" r="9.4" fill="none" stroke="#000" stroke-width="3.15"/>
<line x1="593.62" y1="1926.50" x2="593.62" y2="1926.50" stroke="#000" stroke-width="3.15" stroke-linecap="butt"/>
<line x1="593.62" y1="1928.50" x2="593.62" y2="1928.50" stroke="#000" stroke-width="3.15" stroke-linecap="butt"/>
<line x1="585.62" y1="1926.50" x2="601.62" y2="1926.50" stroke="#000" stroke-width="3.15" stroke-linecap="butt"/>
<line x1="585.62" y1="1928.50" x2="601.62" y2="1928.50" stroke="#000" stroke-width="3.15" stroke-linecap="butt"/>
<rect x="580.82" y="1926.50" width="25.60" height="2.00" fill="#ffa500" stroke="#000" stroke-width="3.15" />
<circle cx="593.62" cy="1924.90" r="9.4" fill="none" stroke="#000" stroke-width="3.15"/>
<circle cx="593.62" cy="1927.30" r="9.4" fill="none" stroke="#000" stroke-width="3.15"/>
<circle cx="593.62" cy="1929.80" r="9.4" fill="none" stroke="#000" stroke-width="3.15"/>
<line x1="645.28" y1="1518.50" x2="645.28" y2="1502.60" stroke="#000" stroke-width="3.15" stroke-linecap="butt"/>
<line x1="645.28" y1="1536.30" x2="645.28" y2="1571.30" stroke="#000" stroke-width="3.15" stroke-linecap="butt"/>
<line x1="637.28" y1="1502.60" x2="653.28" y2="1502.60" stroke="#000" stroke-width="3.15" stroke-linecap="butt"/>
<line x1="637.28" y1="1571.30" x2="653.28" y2="1571.30" stroke="#000" stroke-width="3.15" stroke-linecap="butt"/>
<rect x="632.58" y="1518.50" width="25.40" height="17.80" fill="#87ceeb" stroke="#000" stroke-width="3.15" />
<circle cx="645.28" cy="1498.00" r="9.4" fill="none" stroke="#000" stroke-width="3.15"/>
<line x1="671.11" y1="1512.60" x2="671.11" y2="1499.60" stroke="#000" stroke-width="3.15" stroke-linecap="butt"/>
<line x1="671.11" y1="1527.00" x2="671.11" y2="1562.20" stroke="#000" stroke-width="3.15" stroke-linecap="butt"/>
<line x1="663.11" y1="1499.60" x2="679.11" y2="1499.60" stroke="#000" stroke-width="3.15" stroke-linecap="butt"/>
<line x1="663.11" y1="1562.20" x2="679.11" y2="1562.20" stroke="#000" stroke-width="3.15" stroke-linecap="butt"/>
<rect x="658.41" y="1512.60" width="25.40" height="14.40" fill="#90ee90" stroke="#000" stroke-width="3.15" />
<circle cx="671.11" cy="1493.90" r="9.4" fill="none" stroke="#000" stroke-width="3.15"/>
<line x1="696.93" y1="1563.70" x2="696.93" y2="1548.00" stroke="#000" stroke-width="3.15" stroke-linecap="butt"/>
<line x1="696.93" y1="1585.50" x2="696.93" y2="1633.00" stroke="#000" stroke-width="3.15" stroke-linecap="butt"/>
<line x1="688.93" y1="1548.00" x2="704.93" y2="1548.00" stroke="#000" stroke-width="3.15" stroke-linecap="butt"/>
<line x1="688.93" y1="1633.00" x2="704.93" y2="1633.00" stroke="#000" stroke-width="3.15" stroke-linecap="butt"/>
<rect x="684.23" y="1563.70" width="25.40" height="21.80" fill="#ff0000" stroke="#000" stroke-width="3.15" />
<circle cx="696.93" cy="1538.70" r="9.4" fill="none" stroke="#000" stroke-width="3.15"/>
<circle cx="696.93" cy="1544.90" r="9.4" fill="none" stroke="#000" stroke-width="3.15"/>
<line x1="722.76" y1="1919.50" x2="722.76" y2="1915.20" stroke="#000" stroke-width="3.15" stroke-linecap="butt"/>
<line x1="722.76" y1="1924.50" x2="722.76" y2="1929.40" stroke="#000" stroke-width="3.15" stroke-linecap="butt"/>
<line x1="714.76" y1="1915.20" x2="730.76" y2="1915.20" stroke="#000" stroke-width="3.15" stroke-linecap="butt"/>
<line x1="714.76" y1="1929.40" x2="730.76" y2="1929.40" stroke="#000" stroke-width="3.15" stroke-linecap="butt"/>
<rect x="709.96" y="1919.50" width="25.60" height="5.00" fill="#ffa500" stroke="#000" stroke-width="3.15" />
<line x1="774.42" y1="1446.90" x2="774.42" y2="1432.80" stroke="#000" stroke-width="3.15" stroke-linecap="butt"/>
<line x1="774.42" y1="1464.40" x2="774.42" y2="1487.80" stroke="#000" stroke-width="3.15" stroke-linecap="butt"/>
<line x1="766.42" y1="1432.80" x2="782.42" y2="1432.80" stroke="#000" stroke-width="3.15" stroke-linecap="butt"/>
<line x1="766.42" y1="1487.80" x2="782.42" y2="1487.80" stroke="#000" stroke-width="3.15" stroke-linecap="butt"/>
<rect x="761.72" y="1446.90" width="25.40" height="17.50" fill="#87ceeb" stroke="#000" stroke-width="3.15" />
<line x1="800.25" y1="1440.60" x2="800.25" y2="1425.80" stroke="#000" stroke-width="3.15" stroke-linecap="butt"/>
<line x1="800.25" y1="1457.20" x2="800.25" y2="1477.80" stroke="#000" stroke-width="3.15" stroke-linecap="butt"/>
<line x1="792.25" y1="1425.80" x2="808.25" y2="1425.80" stroke="#000" stroke-width="3.15" stroke-linecap="butt"/>
<line x1="792.25" y1="1477.80" x2="808.25" y2="1477.80" stroke="#000" stroke-width="3.15" stroke-linecap="butt"/>
<rect x="787.55" y="1440.60" width="25.40" height="16.60" fill="#90ee90" stroke="#000" stroke-width="3.15" />
<line x1="826.07" y1="1490.60" x2="826.07" y2="1470.30" stroke="#000" stroke-width="3.15" stroke-linecap="butt"/>
<line x1="826.07" y1="1519.30" x2="826.07" y2="1563.40" stroke="#000" stroke-width="3.15" stroke-linecap="butt"/>
<line x1="818.07" y1="1470.30" x2="834.07" y2="1470.30" stroke="#000" stroke-width="3.15" stroke-linecap="butt"/>
<line x1="818.07" y1="1563.40" x2="834.07" y2="1563.40" stroke="#000" stroke-width="3.15" stroke-linecap="butt"/>
<rect x="813.37" y="1490.60" width="25.40" height="28.70" fill="#ff0000" stroke="#000" stroke-width="3.15" />
<circle cx="826.07" cy="1462.90" r="9.4" fill="none" stroke="#000" stroke-width="3.15"/>
<line x1="851.90" y1="1924.50" x2="851.90" y2="1920.00" stroke="#000" stroke-width="3.15" stroke-linecap="butt"/>
<line x1="851.90" y1="1928.50" x2="851.90" y2="1930.80" stroke="#000" stroke-width="3.15" stroke-linecap="butt"/>
<line x1="843.90" y1="1920.00" x2="859.90" y2="1920.00" stroke="#000" stroke-width="3.15" stroke-linecap="butt"/>
<line x1="843.90" y1="1930.80" x2="859.90" y2="1930.80" stroke="#000" stroke-width="3.15" stroke-linecap="butt"/>
<rect x="839.10" y="1924.50" width="25.60" height="4.00" fill="#ffa500" stroke="#000" stroke-width="3.15" />
<circle cx="851.90" cy="1936.40" r="9.4" fill="none" stroke="#000" stroke-width="3.15"/>
<line x1="903.56" y1="1381.90" x2="903.56" y2="1366.10" stroke="#000" stroke-width="3.15" stroke-linecap="butt"/>
<line x1="903.56" y1="1401.30" x2="903.56" y2="1441.10" stroke="#000" stroke-width="3.15" stroke-linecap="butt"/>
<line x1="895.56" y1="1366.10" x2="911.56" y2="1366.10" stroke="#000" stroke-width="3.15" stroke-linecap="butt"/>
<line x1="895.56" y1="1441.10" x2="911.56" y2="1441.10" stroke="#000" stroke-width="3.15" stroke-linecap="butt"/>
<rect x="890.86" y="1381.90" width="25.40" height="19.40" fill="#87ceeb" stroke="#000" stroke-width="3.15" />
<line x1="929.39" y1="1374.80" x2="929.39" y2="1362.20" stroke="#000" stroke-width="3.15" stroke-linecap="butt"/>
<line x1="929.39" y1="1391.50" x2="929.39" y2="1424.40" stroke="#000" stroke-width="3.15" stroke-linecap="butt"/>
<line x1="921.39" y1="1362.20" x2="937.39" y2="1362.20" stroke="#000" stroke-width="3.15" stroke-linecap="butt"/>
<line x1="921.39" y1="1424.40" x2="937.39" y2="1424.40" stroke="#000" stroke-width="3.15" stroke-linecap="butt"/>
<rect x="916.69" y="1374.80" width="25.40" height="16.70" fill="#90ee90" stroke="#000" stroke-width="3.15" />
<circle cx="929.39" cy="1359.80" r="9.4" fill="none" stroke="#000" stroke-width="3.15"/>
<line x1="955.21" y1="1427.40" x2="955.21" y2="1410.00" stroke="#000" stroke-width="3.15" stroke-linecap="butt"/>
<line x1="955.21" y1="1449.50" x2="955.21" y2="1492.80" stroke="#000" stroke-width="3.15" stroke-linecap="butt"/>
<line x1="947.21" y1="1410.00" x2="963.21" y2="1410.00" stroke="#000" stroke-width="3.15" stroke-linecap="butt"/>
<line x1="947.21" y1="1492.80" x2="963.21" y2="1492.80" stroke="#000" stroke-width="3.15" stroke-linecap="butt"/>
<rect x="942.51" y="1427.40" width="25.40" height="22.10" fill="#ff0000" stroke="#000" stroke-width="3.15" />
<circle cx="955.21" cy="1395.00" r="9.4" fill="none" stroke="#000" stroke-width="3.15"/>
<circle cx="955.21" cy="1406.90" r="9.4" fill="none" stroke="#000" stroke-width="3.15"/>
<circle cx="955.21" cy="1409.40" r="9.4" fill="none" stroke="#000" stroke-width="3.15"/>
<line x1="981.04" y1="1931.90" x2="981.04" y2="1927.60" stroke="#000" stroke-width="3.15" stroke-linecap="butt"/>
<line x1="981.04" y1="1935.70" x2="981.04" y2="1940.00" stroke="#000" stroke-width="3.15" stroke-linecap="butt"/>
<line x1="973.04" y1="1927.60" x2="989.04" y2="1927.60" stroke="#000" stroke-width="3.15" stroke-linecap="butt"/>
<line x1="973.04" y1="1940.00" x2="989.04" y2="1940.00" stroke="#000" stroke-width="3.15" stroke-linecap="butt"/>
<rect x="968.24" y="1931.90" width="25.60" height="3.80" fill="#ffa500" stroke="#000" stroke-width="3.15" />
<circle cx="981.04" cy="1925.40" r="9.4" fill="none" stroke="#000" stroke-width="3.15"/>
<line x1="1032.70" y1="1317.50" x2="1032.70" y2="1304.60" stroke="#000" stroke-width="3.15" stroke-linecap="butt"/>
<line x1="1032.70" y1="1332.40" x2="1032.70" y2="1381.40" stroke="#000" stroke-width="3.15" stroke-linecap="butt"/>
<line x1="1024.70" y1="1304.60" x2="1040.70" y2="1304.60" stroke="#000" stroke-width="3.15" stroke-linecap="butt"/>
<line x1="1024.70" y1="1381.40" x2="1040.70" y2="1381.40" stroke="#000" stroke-width="3.15" stroke-linecap="butt"/>
<rect x="1020.00" y="1317.50" width="25.40" height="14.90" fill="#87ceeb" stroke="#000" stroke-width="3.15" />
<circle cx="1032.70" cy="1294.60" r="9.4" fill="none" stroke="#000" stroke-width="3.15"/>
<circle cx="1032.70" cy="1295.80" r="9.4" fill="none" stroke="#000" stroke-width="3.15"/>
<line x1="1058.53" y1="1306.70" x2="1058.53" y2="1293.50" stroke="#000" stroke-width="3.15" stroke-linecap="butt"/>
<line x1="1058.53" y1="1322.40" x2="1058.53" y2="1365.70" stroke="#000" stroke-width="3.15" stroke-linecap="butt"/>
<line x1="1050.53" y1="1293.50" x2="1066.53" y2="1293.50" stroke="#000" stroke-width="3.15" stroke-linecap="butt"/>
<line x1="1050.53" y1="1365.70" x2="1066.53" y2="1365.70" stroke="#000" stroke-width="3.15" stroke-linecap="butt"/>
<rect x="1045.83" y="1306.70" width="25.40" height="15.70" fill="#90ee90" stroke="#000" stroke-width="3.15" />
<circle cx="1058.53" cy="1284.00" r="9.4" fill="none" stroke="#000" stroke-width="3.15"/>
<circle cx="1058.53" cy="1291.50" r="9.4" fill="none" stroke="#000" stroke-width="3.15"/>
<line x1="1084.35" y1="1360.60" x2="1084.35" y2="1347.00" stroke="#000" stroke-width="3.15" stroke-linecap="butt"/>
<line x1="1084.35" y1="1379.90" x2="1084.35" y2="1425.40" stroke="#000" stroke-width="3.15" stroke-linecap="butt"/>
<line x1="1076.35" y1="1347.00" x2="1092.35" y2="1347.00" stroke="#000" stroke-width="3.15" stroke-linecap="butt"/>
<line x1="1076.35" y1="1425.40" x2="1092.35" y2="1425.40" stroke="#000" stroke-width="3.15" stroke-linecap="butt"/>
<rect x="1071.65" y="1360.60" width="25.40" height="19.30" fill="#ff0000" stroke="#000" stroke-width="3.15" />
<circle cx="1084.35" cy="1333.00" r="9.4" fill="none" stroke="#000" stroke-width="3.15"/>
<circle cx="1084.35" cy="1336.00" r="9.4" fill="none" stroke="#000" stroke-width="3.15"/>
<circle cx="1084.35" cy="1339.30" r="9.4" fill="none" stroke="#000" stroke-width="3.15"/>
<circle cx="1084.35" cy="1342.60" r="9.4" fill="none" stroke="#000" stroke-width="3.15"/>
<line x1="1110.18" y1="1938.30" x2="1110.18" y2="1934.00" stroke="#000" stroke-width="3.15" stroke-linecap="butt"/>
<line x1="1110.18" y1="1942.10" x2="1110.18" y2="1947.40" stroke="#000" stroke-width="3.15" stroke-linecap="butt"/>
<line x1="1102.18" y1="1934.00" x2="1118.18" y2="1934.00" stroke="#000" stroke-width="3.15" stroke-linecap="butt"/>
<line x1="1102.18" y1="1947.40" x2="1118.18" y2="1947.40" stroke="#000" stroke-width="3.15" stroke-linecap="butt"/>
<rect x="1097.38" y="1938.30" width="25.60" height="3.80" fill="#ffa500" stroke="#000" stroke-width="3.15" />
<circle cx="1110.18" cy="1931.30" r="9.4" fill="none" stroke="#000" stroke-width="3.15"/>
<circle cx="1110.18" cy="1950.00" r="9.4" fill="none" stroke="#000" stroke-width="3.15"/>
<line x1="1161.84" y1="1242.80" x2="1161.84" y2="1231.50" stroke="#000" stroke-width="3.15" stroke-linecap="butt"/>
<line x1="1161.84" y1="1261.70" x2="1161.84" y2="1315.00" stroke="#000" stroke-width="3.15" stroke-linecap="butt"/>
<line x1="1153.84" y1="1231.50" x2="1169.84" y2="1231.50" stroke="#000" stroke-width="3.15" stroke-linecap="butt"/>
<line x1="1153.84" y1="1315.00" x2="1169.84" y2="1315.00" stroke="#000" stroke-width="3.15" stroke-linecap="butt"/>
<rect x="1149.14" y="1242.80" width="25.40" height="18.90" fill="#87ceeb" stroke="#000" stroke-width="3.15" />
<circle cx="1161.84" cy="1222.10" r="9.4" fill="none" stroke="#000" stroke-width="3.15"/>
<circle cx="1161.84" cy="1225.20" r="9.4" fill="none" stroke="#000" stroke-width="3.15"/>
<line x1="1187.67" y1="1234.30" x2="1187.67" y2="1217.80" stroke="#000" stroke-width="3.15" stroke-linecap="butt"/>
<line x1="1187.67" y1="1252.00" x2="1187.67" y2="1311.30" stroke="#000" stroke-width="3.15" stroke-linecap="butt"/>
<line x1="1179.67" y1="1217.80" x2="1195.67" y2="1217.80" stroke="#000" stroke-width="3.15" stroke-linecap="butt"/>
<line x1="1179.67" y1="1311.30" x2="1195.67" y2="1311.30" stroke="#000" stroke-width="3.15" stroke-linecap="butt"/>
<rect x="1174.97" y="1234.30" width="25.40" height="17.70" fill="#90ee90" stroke="#000" stroke-width="3.15" />
<circle cx="1187.67" cy="1214.00" r="9.4" fill="none" stroke="#000" stroke-width="3.15"/>
<line x1="1213.49" y1="1286.10" x2="1213.49" y2="1268.00" stroke="#000" stroke-width="3.15" stroke-linecap="butt"/>
<line x1="1213.49" y1="1312.10" x2="1213.49" y2="1365.20" stroke="#000" stroke-width="3.15" stroke-linecap="butt"/>
<line x1="1205.49" y1="1268.00" x2="1221.49" y2="1268.00" stroke="#000" stroke-width="3.15" stroke-linecap="butt"/>
<line x1="1205.49" y1="1365.20" x2="1221.49" y2="1365.20" stroke="#000" stroke-width="3.15" stroke-linecap="butt"/>
<rect x="1200.79" y="1286.10" width="25.40" height="26.00" fill="#ff0000" stroke="#000" stroke-width="3.15" />
<circle cx="1213.49" cy="1255.70" r="9.4" fill="none" stroke="#000" stroke-width="3.15"/>
<circle cx="1213.49" cy="1264.10" r="9.4" fill="none" stroke="#000" stroke-width="3.15"/>
<circle cx="1213.49" cy="1265.30" r="9.4" fill="none" stroke="#000" stroke-width="3.15"/>
<line x1="1239.32" y1="1944.60" x2="1239.32" y2="1940.20" stroke="#000" stroke-width="3.15" stroke-linecap="butt"/>
<line x1="1239.32" y1="1948.10" x2="1239.32" y2="1952.50" stroke="#000" stroke-width="3.15" stroke-linecap="butt"/>
<line x1="1231.32" y1="1940.20" x2="1247.32" y2="1940.20" stroke="#000" stroke-width="3.15" stroke-linecap="butt"/>
<line x1="1231.32" y1="1952.50" x2="1247.32" y2="1952.50" stroke="#000" stroke-width="3.15" stroke-linecap="butt"/>
<rect x="1226.52" y="1944.60" width="25.60" height="3.50" fill="#ffa500" stroke="#000" stroke-width="3.15" />
<circle cx="1239.32" cy="1939.90" r="9.4" fill="none" stroke="#000" stroke-width="3.15"/>
<circle cx="1239.32" cy="1957.60" r="9.4" fill="none" stroke="#000" stroke-width="3.15"/>
<circle cx="1239.32" cy="1960.50" r="9.4" fill="none" stroke="#000" stroke-width="3.15"/>
<circle cx="1239.32" cy="1963.50" r="9.4" fill="none" stroke="#000" stroke-width="3.15"/>
<circle cx="1239.32" cy="1966.50" r="9.4" fill="none" stroke="#000" stroke-width="3.15"/>
<polyline points="296.6,1744.5 340,1719.4 610,1569 1010,1345.6 1150,1266.8 1200.6,1237.6" fill="none" stroke="#808080" stroke-width="4.7" stroke-linecap="square" stroke-linejoin="round"/>
<line x1="244.46" y1="1770.60" x2="271.26" y2="1770.60" stroke="#ff7f0e" stroke-width="3.15" stroke-linecap="butt"/>
<line x1="270.29" y1="1767.20" x2="297.09" y2="1767.20" stroke="#ff7f0e" stroke-width="3.15" stroke-linecap="butt"/>
<line x1="296.11" y1="1832.40" x2="322.91" y2="1832.40" stroke="#ff7f0e" stroke-width="3.15" stroke-linecap="butt"/>
<line x1="321.84" y1="1922.00" x2="348.84" y2="1922.00" stroke="#ff7f0e" stroke-width="3.15" stroke-linecap="butt"/>
<line x1="373.60" y1="1694.40" x2="400.40" y2="1694.40" stroke="#ff7f0e" stroke-width="3.15" stroke-linecap="butt"/>
<line x1="399.43" y1="1693.60" x2="426.23" y2="1693.60" stroke="#ff7f0e" stroke-width="3.15" stroke-linecap="butt"/>
<line x1="425.25" y1="1760.40" x2="452.05" y2="1760.40" stroke="#ff7f0e" stroke-width="3.15" stroke-linecap="butt"/>
<line x1="450.98" y1="1925.00" x2="477.98" y2="1925.00" stroke="#ff7f0e" stroke-width="3.15" stroke-linecap="butt"/>
<line x1="502.74" y1="1635.60" x2="529.54" y2="1635.60" stroke="#ff7f0e" stroke-width="3.15" stroke-linecap="butt"/>
<line x1="528.57" y1="1626.50" x2="555.37" y2="1626.50" stroke="#ff7f0e" stroke-width="3.15" stroke-linecap="butt"/>
<line x1="554.39" y1="1680.40" x2="581.19" y2="1680.40" stroke="#ff7f0e" stroke-width="3.15" stroke-linecap="butt"/>
<line x1="580.12" y1="1927.60" x2="607.12" y2="1927.60" stroke="#ff7f0e" stroke-width="3.15" stroke-linecap="butt"/>
<line x1="631.88" y1="1527.00" x2="658.68" y2="1527.00" stroke="#ff7f0e" stroke-width="3.15" stroke-linecap="butt"/>
<line x1="657.71" y1="1518.10" x2="684.51" y2="1518.10" stroke="#ff7f0e" stroke-width="3.15" stroke-linecap="butt"/>
<line x1="683.53" y1="1573.30" x2="710.33" y2="1573.30" stroke="#ff7f0e" stroke-width="3.15" stroke-linecap="butt"/>
<line x1="709.26" y1="1922.00" x2="736.26" y2="1922.00" stroke="#ff7f0e" stroke-width="3.15" stroke-linecap="butt"/>
<line x1="761.02" y1="1456.10" x2="787.82" y2="1456.10" stroke="#ff7f0e" stroke-width="3.15" stroke-linecap="butt"/>
<line x1="786.85" y1="1447.60" x2="813.65" y2="1447.60" stroke="#ff7f0e" stroke-width="3.15" stroke-linecap="butt"/>
<line x1="812.67" y1="1503.90" x2="839.47" y2="1503.90" stroke="#ff7f0e" stroke-width="3.15" stroke-linecap="butt"/>
<line x1="838.40" y1="1926.20" x2="865.40" y2="1926.20" stroke="#ff7f0e" stroke-width="3.15" stroke-linecap="butt"/>
<line x1="890.16" y1="1391.00" x2="916.96" y2="1391.00" stroke="#ff7f0e" stroke-width="3.15" stroke-linecap="butt"/>
<line x1="915.99" y1="1382.70" x2="942.79" y2="1382.70" stroke="#ff7f0e" stroke-width="3.15" stroke-linecap="butt"/>
<line x1="941.81" y1="1437.60" x2="968.61" y2="1437.60" stroke="#ff7f0e" stroke-width="3.15" stroke-linecap="butt"/>
<line x1="967.54" y1="1933.40" x2="994.54" y2="1933.40" stroke="#ff7f0e" stroke-width="3.15" stroke-linecap="butt"/>
<line x1="1019.30" y1="1325.90" x2="1046.10" y2="1325.90" stroke="#ff7f0e" stroke-width="3.15" stroke-linecap="butt"/>
<line x1="1045.13" y1="1314.80" x2="1071.93" y2="1314.80" stroke="#ff7f0e" stroke-width="3.15" stroke-linecap="butt"/>
<line x1="1070.95" y1="1370.00" x2="1097.75" y2="1370.00" stroke="#ff7f0e" stroke-width="3.15" stroke-linecap="butt"/>
<line x1="1096.68" y1="1940.20" x2="1123.68" y2="1940.20" stroke="#ff7f0e" stroke-width="3.15" stroke-linecap="butt"/>
<line x1="1148.44" y1="1251.40" x2="1175.24" y2="1251.40" stroke="#ff7f0e" stroke-width="3.15" stroke-linecap="butt"/>
<line x1="1174.27" y1="1242.60" x2="1201.07" y2="1242.60" stroke="#ff7f0e" stroke-width="3.15" stroke-linecap="butt"/>
<line x1="1200.09" y1="1299.10" x2="1226.89" y2="1299.10" stroke="#ff7f0e" stroke-width="3.15" stroke-linecap="butt"/>
<line x1="1225.82" y1="1946.50" x2="1252.82" y2="1946.50" stroke="#ff7f0e" stroke-width="3.15" stroke-linecap="butt"/>
<rect x="193.50" y="1176.20" width="1110.90" height="827.40" fill="none" stroke="#000" stroke-width="2.52" />
<rect x="977.6" y="1541.4" width="275.3" height="324.9" fill="#fff"/>
<rect x="991.9" y="1551.9" width="250.2" height="306.5" rx="6" ry="6" fill="#fff" stroke="#cccccc" stroke-width="3.3"/>
<rect x="1004.20" y="1565.90" width="62.70" height="22.00" fill="#87ceeb" stroke="#000" stroke-width="3.15" />
<rect x="1004.20" y="1611.90" width="62.70" height="21.80" fill="#90ee90" stroke="#000" stroke-width="3.15" />
<rect x="1004.20" y="1678.10" width="62.70" height="21.80" fill="#ff0000" stroke="#000" stroke-width="3.15" />
<rect x="1004.20" y="1758.10" width="62.70" height="22.00" fill="#ffa500" stroke="#000" stroke-width="3.15" />
<line x1="1002.50" y1="1829.00" x2="1068.60" y2="1829.00" stroke="#808080" stroke-width="4.7" stroke-linecap="butt"/>
<text transform="matrix(1.1078 0 0 1 1090.45 1588.00)" font-size="32.79" fill="#000">no craft</text>
<text transform="matrix(1.1235 0 0 1 1091.26 1633.20)" font-size="32.79" fill="#000">craft</text>
<text transform="matrix(1.1188 0 0 1 1090.42 1679.10)" font-size="32.79" fill="#000">no craft,</text>
<text transform="matrix(1.0287 0 0 1 1092.80 1713.70)" font-size="32.79" fill="#000">w/o Pauli</text>
<text transform="matrix(1.1314 0 0 1 1091.24 1759.50)" font-size="32.79" fill="#000">craft,</text>
<text transform="matrix(1.0287 0 0 1 1092.80 1794.10)" font-size="32.79" fill="#000">w/o Pauli</text>
<use href="#eps" stroke="#000" stroke-width="0.9" aria-label="epsilon" transform="translate(1132.90 1824.80) scale(0.42)"/>
<text class="m" transform="translate(1152.9 1825.8)" font-size="31.4">2</text>
<text transform="matrix(1.0478 0 0 1 97.76 1320.10)" font-size="33.45" fill="#000">10</text>
<text transform="matrix(1.1480 0 0 1 137.98 1308.50)" font-size="23.26" fill="#000">−5</text>
<text transform="matrix(1.0478 0 0 1 97.76 1464.30)" font-size="33.45" fill="#000">10</text>
<text transform="matrix(1.1598 0 0 1 137.97 1452.70)" font-size="23.26" fill="#000">−7</text>
<text transform="matrix(1.0478 0 0 1 97.38 1608.50)" font-size="33.45" fill="#000">10</text>
<text transform="matrix(1.1692 0 0 1 137.58 1596.90)" font-size="23.26" fill="#000">−9</text>
<text transform="matrix(1.0478 0 0 1 84.28 1752.70)" font-size="33.45" fill="#000">10</text>
<text transform="matrix(1.2212 0 0 1 124.43 1741.10)" font-size="23.26" fill="#000">−11</text>
<text transform="matrix(1.0478 0 0 1 84.03 1896.90)" font-size="33.45" fill="#000">10</text>
<text transform="matrix(1.1664 0 0 1 124.24 1885.30)" font-size="23.26" fill="#000">−13</text>
<text transform="matrix(1.0478 0 0 1 260.47 2050.20)" font-size="33.45" fill="#000">10</text>
<text transform="matrix(1.1480 0 0 1 300.70 2038.60)" font-size="23.26" fill="#000">−5</text>
<text transform="matrix(1.0478 0 0 1 518.44 2050.20)" font-size="33.45" fill="#000">10</text>
<text transform="matrix(1.1616 0 0 1 558.65 2038.60)" font-size="23.26" fill="#000">−4</text>
<text transform="matrix(1.0478 0 0 1 776.97 2050.20)" font-size="33.45" fill="#000">10</text>
<text transform="matrix(1.1590 0 0 1 817.18 2038.60)" font-size="23.26" fill="#000">−3</text>
<text transform="matrix(1.0478 0 0 1 1035.50 2050.20)" font-size="33.45" fill="#000">10</text>
<text transform="matrix(1.1443 0 0 1 1075.73 2038.60)" font-size="23.26" fill="#000">−2</text>
</g>
<text transform="matrix(0.8722 0 0 1 -1.60 47.80)" font-size="66.8">(a)</text>
<text transform="matrix(0.9254 0 0 1 -3.22 1146.70)" font-size="66.8">(b)</text>
<text transform="translate(56.00 772.58) rotate(-90) scale(0.9791 1)" font-size="67.4">Remnant error</text>
<text transform="translate(56.00 1839.17) rotate(-90) scale(0.9767 1)" font-size="67.4">Remnant error</text>
<use href="#eps" stroke="none" aria-label="epsilon" transform="translate(727.00 2076.00) scale(1.0)"/>
</svg>
</body></html>
